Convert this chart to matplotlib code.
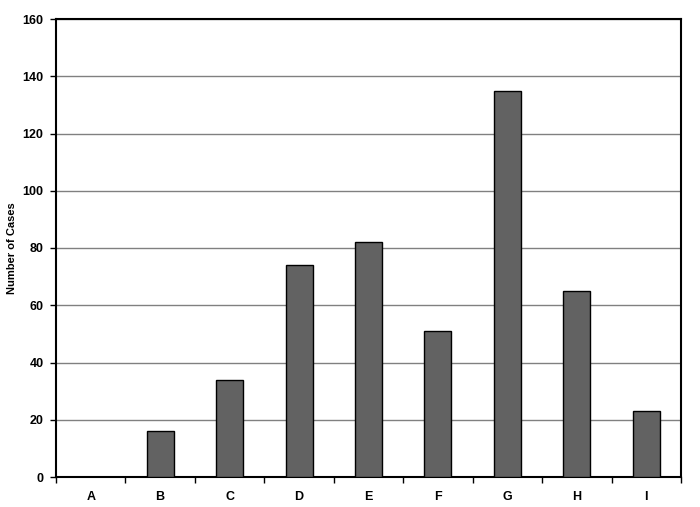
import matplotlib
matplotlib.use('Agg')
import matplotlib.pyplot as plt
import numpy as np

# Data
categories = ['A', 'B', 'C', 'D', 'E', 'F', 'G', 'H', 'I']
cases = [0, 16, 34, 74, 82, 51, 135, 65, 23]
y_ticks = [0, 20, 40, 60, 80, 100, 120, 140, 160]

plt.rcParams['font.family'] = ['Liberation Sans', 'DejaVu Sans']
plt.rcParams['font.weight'] = 'bold'

fig = plt.figure(figsize=(7, 5.07), dpi=100)
ax = fig.add_axes([56 / 700, 1 - 477 / 507, 625 / 700, 458 / 507])

x = np.arange(len(categories))
ax.bar(x, cases, width=0.39, color='#626262', edgecolor='black', linewidth=1, zorder=3)

ax.set_xlim(-0.5, len(categories) - 0.5)
ax.set_ylim(0, 160)
ax.set_yticks(y_ticks)
ax.set_yticklabels([str(v) for v in y_ticks], fontsize=9, fontweight='bold')
ax.yaxis.grid(True, color='#808080', linewidth=1, zorder=0)

ax.set_xticks(x)
ax.set_xticklabels(categories, fontsize=9, fontweight='bold')
ax.tick_params(axis='x', length=0, pad=10)
ax.set_xticks(np.arange(len(categories) + 1) - 0.5, minor=True)
ax.tick_params(axis='x', which='minor', length=4, width=1, direction='out')
ax.tick_params(axis='y', length=4, width=1, direction='out', pad=5)

for s in ax.spines.values():
    s.set_linewidth(1.5)
    s.set_color('black')

ax.set_ylabel('Number of Cases', fontsize=8, fontweight='bold', labelpad=4)

fig.savefig('out.png', dpi=100)
